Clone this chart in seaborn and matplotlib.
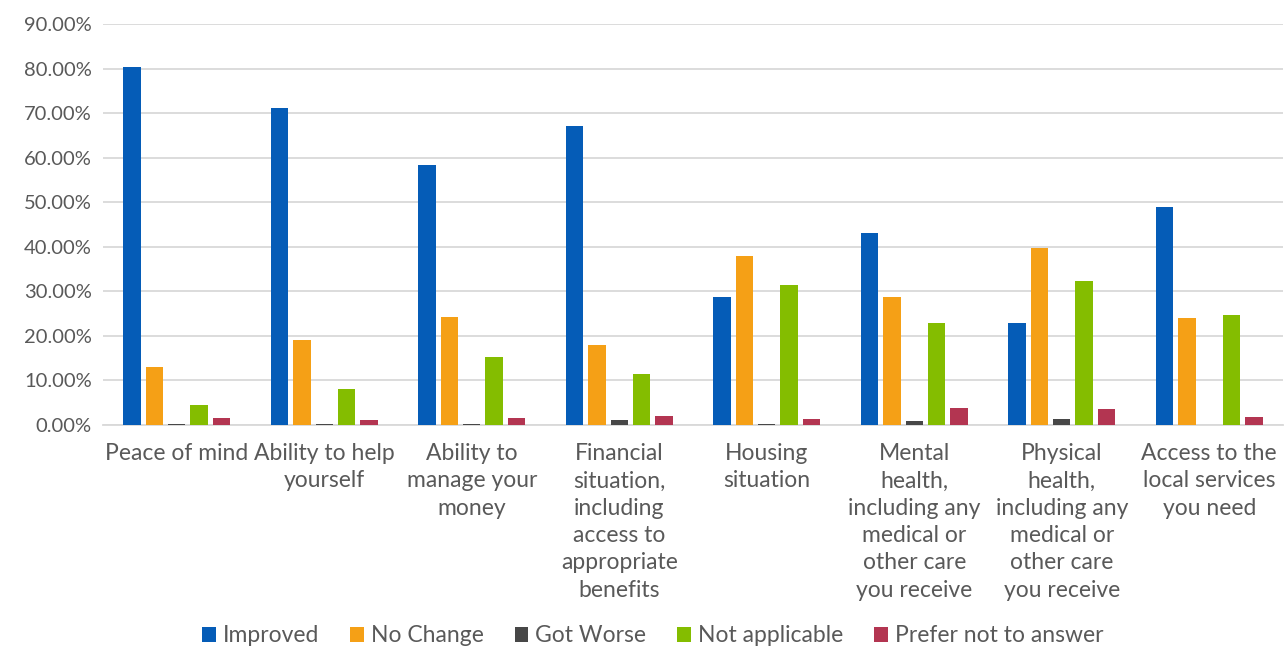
import matplotlib
matplotlib.use("Agg")
import matplotlib.pyplot as plt
import matplotlib.ticker as mticker
from matplotlib.patches import Patch
import seaborn as sns
import pandas as pd

categories = [
    "Peace of mind",
    "Ability to help\nyourself",
    "Ability to\nmanage your\nmoney",
    "Financial\nsituation,\nincluding\naccess to\nappropriate\nbenefits",
    "Housing\nsituation",
    "Mental\nhealth,\nincluding any\nmedical or\nother care\nyou receive",
    "Physical\nhealth,\nincluding any\nmedical or\nother care\nyou receive",
    "Access to the\nlocal services\nyou need",
]
series_names = ["Improved", "No Change", "Got Worse", "Not applicable", "Prefer not to answer"]

improved = [80.3, 71.1, 58.3, 67.1, 28.7, 43.1, 22.9, 48.9]
no_change = [13.0, 19.1, 24.2, 18.0, 37.9, 28.7, 39.7, 24.0]
got_worse = [0.3, 0.3, 0.3, 1.1, 0.3, 0.9, 1.3, 0.0]
not_applicable = [4.5, 8.1, 15.3, 11.4, 31.4, 22.9, 32.3, 24.7]
prefer_not = [1.6, 1.1, 1.6, 2.0, 1.3, 3.8, 3.5, 1.8]

colors = ["#055CB7", "#F5A016", "#474747", "#84BD00", "#B33551"]

values = [improved, no_change, got_worse, not_applicable, prefer_not]
rows = []
for name, vals in zip(series_names, values):
    for cat, v in zip(categories, vals):
        rows.append({"category": cat, "series": name, "value": v})
df = pd.DataFrame(rows)

sns.set_theme(style="white")
plt.rcParams["font.family"] = ["Lato", "DejaVu Sans"]

fig = plt.figure(figsize=(12.85, 6.5), dpi=100)
ax = fig.add_axes([103 / 1285, 1 - 425 / 650, 1180 / 1285, 401 / 650])

sns.barplot(
    data=df, x="category", y="value", hue="series",
    order=categories, hue_order=series_names, palette=colors,
    width=0.76, gap=0.22, saturation=1, ax=ax, legend=False,
    edgecolor="none",
)
for bar in ax.patches:
    bar.set_zorder(3)

ax.set_ylim(0, 90)
ax.set_xlim(-0.5, len(categories) - 0.5)
ax.yaxis.set_major_locator(mticker.MultipleLocator(10))
ax.yaxis.set_major_formatter(mticker.FuncFormatter(lambda v, p: f"{v:.2f}%"))
ax.grid(axis="y", color="#D9D9D9", linewidth=1.3)
ax.set_axisbelow(True)
for s in ["top", "right", "left"]:
    ax.spines[s].set_visible(False)
ax.spines["bottom"].set_color("#D9D9D9")
ax.spines["bottom"].set_linewidth(1.3)
ax.spines["bottom"].set_zorder(1)
ax.set_xlabel("")
ax.set_ylabel("")
ax.tick_params(axis="y", length=0, labelsize=14.5, labelcolor="#595959", pad=8)
ax.tick_params(axis="x", length=0, labelsize=16.5, labelcolor="#595959", pad=13)
for lbl in ax.get_xticklabels():
    lbl.set_linespacing(1.37)
    lbl.set_horizontalalignment("center")

handles = [Patch(facecolor=c, edgecolor="none") for c in colors]
fig.legend(
    handles, series_names, loc="center", bbox_to_anchor=(0.508, 1 - 636 / 650),
    ncol=5, frameon=False, fontsize=16.5, handlelength=0.6, handleheight=0.6,
    handletextpad=0.3, columnspacing=1.35, labelcolor="#595959",
)

fig.savefig("out.png", dpi=100)
